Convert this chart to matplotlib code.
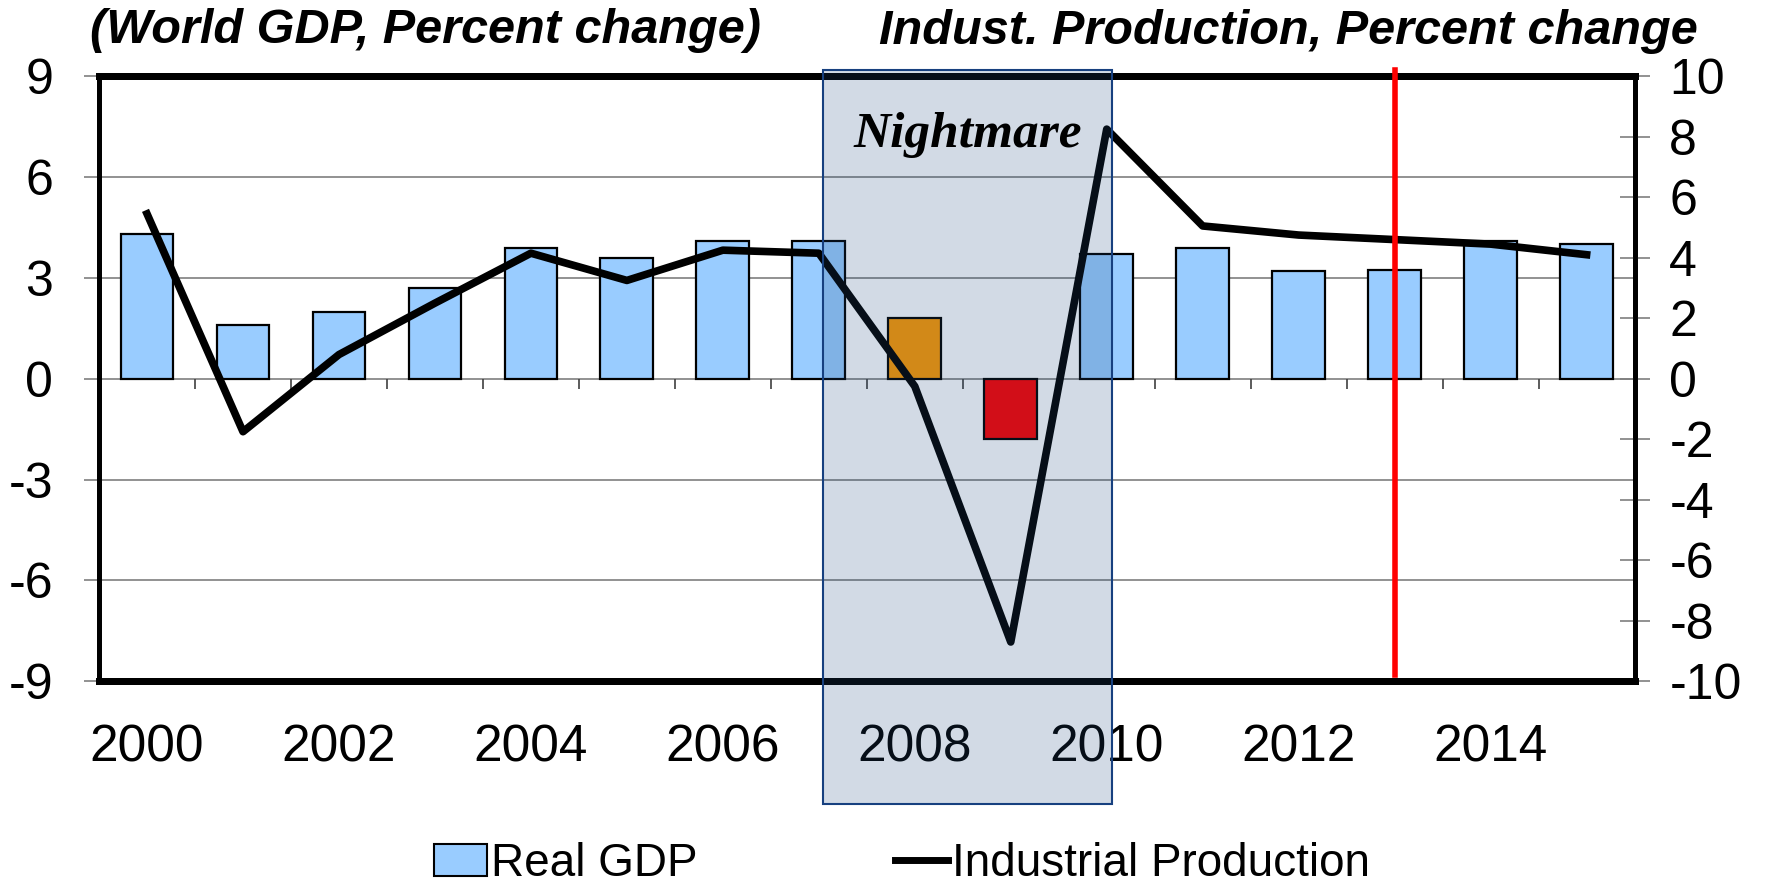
import matplotlib.pyplot as plt
import matplotlib.transforms as mtransforms
from matplotlib.patches import Rectangle, Patch
from matplotlib.lines import Line2D
import numpy as np

plt.rcParams['font.family'] = ['Liberation Sans', 'DejaVu Sans']
plt.rcParams['axes.unicode_minus'] = False

years = np.arange(2000, 2016)
real_gdp = [4.3, 1.6, 2.0, 2.7, 3.9, 3.6, 4.1, 4.1, 1.8, -1.8, 3.7, 3.9, 3.2, 3.25, 4.1, 4.0]
indust_prod = [5.45, -1.75, 0.8, 2.5, 4.15, 3.25, 4.25, 4.15, -0.25, -8.7, 8.25, 5.05, 4.75, 4.6, 4.45, 4.1]
bar_colors = ['#99CCFF'] * 8 + ['#FF9900', '#FF0000'] + ['#99CCFF'] * 6
year_ticks = np.arange(2000, 2015, 2)
shade_span = (2007.04, 2010.05)
forecast_year = 2013

fig = plt.figure(figsize=(17.69, 8.86), dpi=100)
ax = fig.add_axes([0.056, 0.231, 0.868, 0.683])
ax2 = ax.twinx()

# gridlines and small category ticks on the zero line
ax.set_axisbelow(True)
ax.yaxis.grid(True, color='#7f7f7f', lw=1.2)
ax.vlines(years[:-1] + 0.5, -0.3, 0, color='#404040', lw=1.2, zorder=1)

ax.bar(years, real_gdp, width=0.55, color=bar_colors, edgecolor='black', lw=1.6, zorder=2)
ax2.plot(years, indust_prod, color='black', lw=5.5, solid_joinstyle='round', zorder=3)

ax.set_xlim(1999.5, 2015.5)
ax.set_ylim(-9, 9)
ax2.set_ylim(-10, 10)
ax.set_yticks(np.arange(-9, 10, 3))
ax2.set_yticks(np.arange(-10, 11, 2))
ax.set_xticks(year_ticks)
ax.tick_params(axis='x', length=0, pad=30, labelsize=37)
ax.tick_params(axis='y', length=11, width=1.2, color='#7f7f7f', pad=22, labelsize=36)
ax2.tick_params(axis='y', direction='inout', length=22, width=1.2, color='#7f7f7f',
                pad=14, labelsize=36)

for a in (ax, ax2):
    a.spines['top'].set_linewidth(5)
    a.spines['bottom'].set_linewidth(5)
    a.spines['left'].set_linewidth(3.5)
    a.spines['right'].set_linewidth(3.5)

# forecast line
ax2.axvline(forecast_year, ymin=0.011, ymax=1.011, color='#FF0000', lw=4, clip_on=False, zorder=4)

# shaded crisis box
trans = mtransforms.blended_transform_factory(ax2.transData, ax2.transAxes)
ax2.add_patch(Rectangle((shade_span[0], -0.203), shade_span[1] - shade_span[0], 1.214,
                        transform=trans, facecolor=(0.12, 0.29, 0.49, 0.2),
                        edgecolor='#17407F', lw=1.5, clip_on=False, zorder=10))
ax2.text(2008.55, 7.25, 'Nightmare', transform=ax.transData, ha='center', va='center',
         fontsize=37, family='Liberation Serif', style='italic', weight='bold', zorder=11)

fig.text(0.051, 0.966, '(World GDP, Percent change)', ha='left', va='center',
         fontsize=35, style='italic', weight='bold')
fig.text(0.960, 0.964, 'Indust. Production, Percent change', ha='right', va='center',
         fontsize=35, style='italic', weight='bold')

handles = [Patch(facecolor='#99CCFF', edgecolor='black', lw=1.5),
           Line2D([], [], color='black', lw=5)]
fig.legend(handles, ['Real GDP', 'Industrial Production'], loc='center',
           bbox_to_anchor=(0.51, 0.025), ncol=2, frameon=False, fontsize=33,
           handlelength=1.15, handletextpad=0.1, columnspacing=4.3)

plt.savefig('out.png', dpi=100)
